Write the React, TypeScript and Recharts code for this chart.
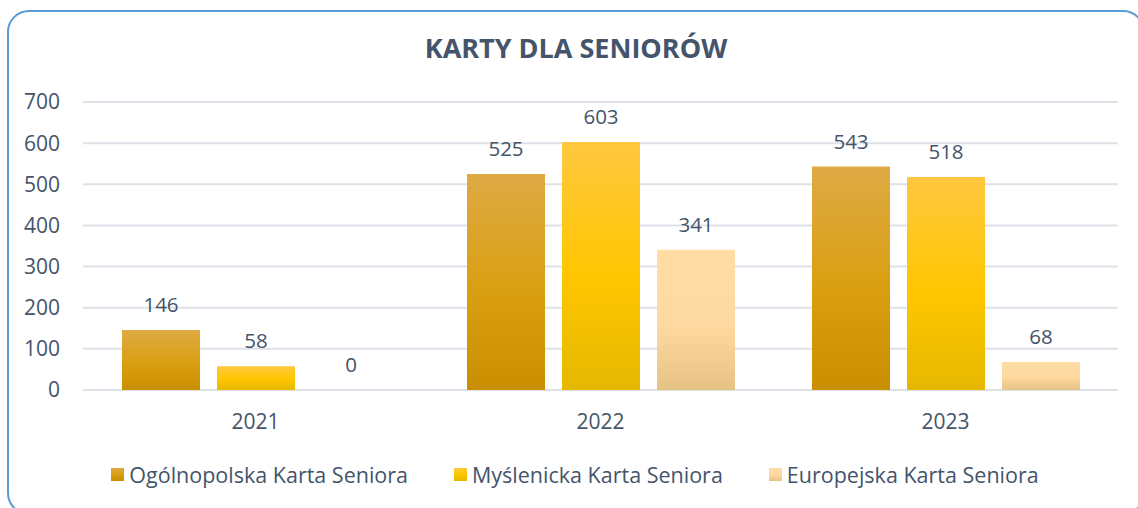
import React from 'react';
import { BarChart, Bar, XAxis, YAxis, CartesianGrid, Legend, LabelList } from 'recharts';

const years = ['2021', '2022', '2023'];
const ogolnopolska = [146, 525, 543];
const myslenicka = [58, 603, 518];
const europejska = [0, 341, 68];
const yTicks = [0, 100, 200, 300, 400, 500, 600, 700];

const SERIES = [
  { key: 'ogolnopolska', name: 'Ogólnopolska Karta Seniora', top: '#DFAA45', bottom: '#C98F00', mid: '#D99F10' },
  { key: 'myslenicka', name: 'Myślenicka Karta Seniora', top: '#FFC83F', bottom: '#E5B800', mid: '#FFC600' },
  { key: 'europejska', name: 'Europejska Karta Seniora', top: '#FFDDA5', bottom: '#E7C285', mid: '#FDD9A0' },
];

const data = years.map((year, i) => ({
  year,
  ogolnopolska: ogolnopolska[i],
  myslenicka: myslenicka[i],
  europejska: europejska[i],
}));

const TEXT = '#44546A';
const FONT = '"Open Sans", "Noto Sans", sans-serif';

function LegendContent() {
  return (
    <div
      style={{
        height: 30,
        display: 'flex',
        justifyContent: 'center',
        alignItems: 'center',
        gap: 46,
        paddingLeft: 12,
        fontFamily: FONT,
        fontSize: 21.5,
        color: TEXT,
        whiteSpace: 'nowrap',
      }}
    >
      {SERIES.map((s) => (
        <div key={s.key} style={{ display: 'flex', alignItems: 'center', gap: 5 }}>
          <span
            style={{
              display: 'inline-block',
              width: 13,
              height: 13,
              background: `linear-gradient(${s.top}, ${s.mid}, ${s.bottom})`,
            }}
          />
          <span>{s.name}</span>
        </div>
      ))}
    </div>
  );
}

export default function App() {
  return (
    <div
      style={{
        position: 'fixed',
        left: 0,
        top: 0,
        width: 1138,
        height: 508,
        overflow: 'hidden',
        background: '#fff',
        fontFamily: FONT,
      }}
    >
      <div
        style={{
          position: 'absolute',
          left: 7,
          top: 10,
          width: 1138,
          height: 505,
          border: '2px solid #5B9BD5',
          borderRadius: 22,
          boxSizing: 'border-box',
        }}
      />
      <div
        style={{
          position: 'absolute',
          left: 0,
          top: 30,
          width: 1152,
          textAlign: 'center',
          fontSize: 27,
          fontWeight: 700,
          color: TEXT,
          lineHeight: '36px',
        }}
      >
        KARTY DLA SENIORÓW
      </div>
      <div style={{ position: 'absolute', left: 0, top: 0 }}>
        <BarChart
          width={1138}
          height={508}
          data={data}
          margin={{ top: 102, right: 20, bottom: 48, left: 0 }}
          barCategoryGap={39}
          barGap={17}
        >
          <defs>
            {SERIES.map((s) => (
              <linearGradient key={s.key} id={`grad-${s.key}`} x1="0" y1="0" x2="0" y2="1">
                <stop offset="0%" stopColor={s.top} />
                <stop offset="55%" stopColor={s.mid} />
                <stop offset="100%" stopColor={s.bottom} />
              </linearGradient>
            ))}
          </defs>
          <CartesianGrid vertical={false} stroke="#DDE2E8" strokeWidth={2} />
          <XAxis
            dataKey="year"
            axisLine={false}
            tickLine={false}
            tickSize={0}
            tickMargin={24}
            height={40}
            tick={{ fill: TEXT, fontSize: 21, fontFamily: FONT }}
          />
          <YAxis
            domain={[0, 700]}
            ticks={yTicks}
            axisLine={false}
            tickLine={false}
            tickSize={0}
            tickMargin={23}
            width={83}
            tick={{ fill: TEXT, fontSize: 21, fontFamily: FONT }}
          />
          <Legend
            content={<LegendContent />}
            verticalAlign="bottom"
            wrapperStyle={{ top: 459, left: 0, width: 1138 }}
          />
          {SERIES.map((s) => (
            <Bar
              key={s.key}
              dataKey={s.key}
              name={s.name}
              fill={`url(#grad-${s.key})`}
              minPointSize={0.01}
              isAnimationActive={false}
            >
              <LabelList
                dataKey={s.key}
                position="top"
                offset={18}
                style={{ fill: TEXT, fontSize: 20.5, fontFamily: FONT }}
              />
            </Bar>
          ))}
        </BarChart>
      </div>
    </div>
  );
}
